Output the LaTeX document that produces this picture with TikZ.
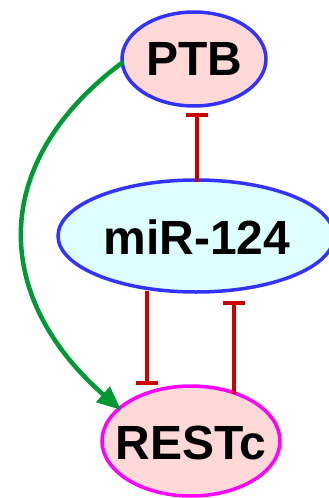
\documentclass[tikz,border=0pt]{standalone}
\usepackage{fontspec}
\setmainfont{Liberation Sans}
\usetikzlibrary{shapes.geometric,arrows.meta}
\definecolor{nodeblue}{HTML}{3333FF}
\definecolor{pinkfill}{HTML}{FFD8D8}
\definecolor{cyanfill}{HTML}{DDFFFF}
\definecolor{magentaline}{HTML}{FF00FF}
\definecolor{inhred}{HTML}{CC0000}
\definecolor{actgreen}{HTML}{009933}
\tikzset{
  gene/.style={ellipse, line width=3.5pt, inner sep=0pt},
  genetext/.style={inner sep=0pt, font=\fontsize{48}{48}\selectfont\bfseries},
  inh/.style={draw=inhred, line width=4pt, -{Bar[width=22pt,line width=4pt]}},
  act/.style={draw=actgreen, line width=4.5pt, -{Triangle[length=24pt,width=20pt]}}
}
\begin{document}
\begin{tikzpicture}[x=1pt,y=-1pt]
\useasboundingbox (0,0) rectangle (329,498);
\node[gene, draw=nodeblue, fill=pinkfill, minimum width=144pt, minimum height=94pt] (ptb) at (194,59) {};
\node[genetext] (ptbt) at (ptb.center) {PTB};
\node[gene, draw=nodeblue, fill=cyanfill, minimum width=276pt, minimum height=112pt] (mir) at (196,236) {};
\node[genetext] (mirt) at (197,237) {miR-124};
\node[gene, draw=magentaline, fill=pinkfill, minimum width=178pt, minimum height=110pt] (rest) at (191,441) {};
\node[genetext] (restt) at (191,443) {RESTc};
% inhibition miR-124 -> PTB
\coordinate (mirtop) at (197,182);
\coordinate (ptbbar) at (197,113);
\draw[inh] (mirtop) -- (ptbbar);
% inhibition miR-124 -> RESTc
\coordinate (mirl) at (147,291);
\coordinate (restbar) at (147,385);
\draw[inh] (mirl) -- (restbar);
% inhibition RESTc -> miR-124
\coordinate (restr) at (234,394);
\coordinate (mirbar) at (234,301);
\draw[inh] (restr) -- (mirbar);
% activation PTB -> RESTc
\coordinate (ptbl) at (123,62);
\coordinate (restl) at (121,410);
\draw[act] (ptbl) .. controls (-15,165) and (-5,300) .. (restl);
\end{tikzpicture}
\end{document}
